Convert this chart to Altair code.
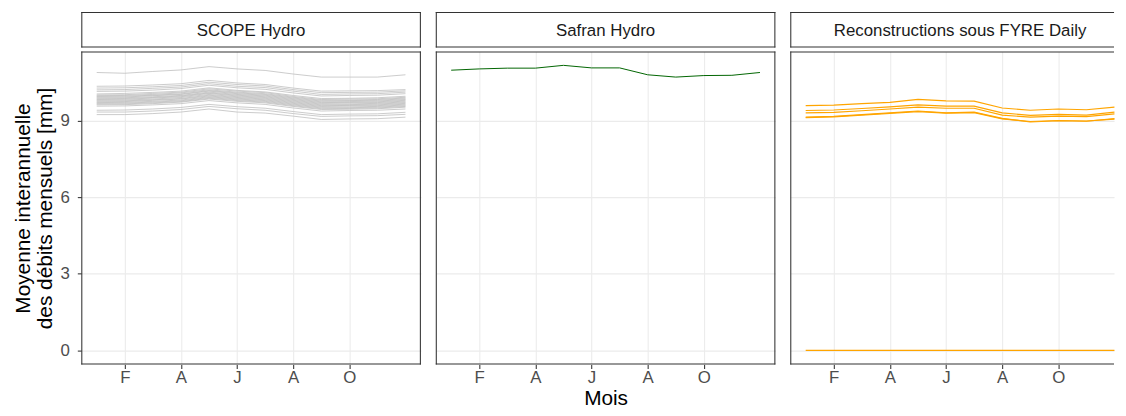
import altair as alt
import pandas as pd

months = list(range(1, 13))
tick_months = [2, 4, 6, 8, 10]
tick_labels = ["F", "A", "J", "A", "O"]
y_ticks = [0, 3, 6, 9]

panel_names = ["SCOPE Hydro", "Safran Hydro", "Reconstructions sous FYRE Daily"]

scope_lines = [
    [10.89, 10.86, 10.93, 10.99, 11.12, 11.03, 10.97, 10.83, 10.71, 10.71, 10.71, 10.80],
    [10.35, 10.36, 10.40, 10.45, 10.58, 10.48, 10.42, 10.28, 10.16, 10.17, 10.18, 10.22],
    [10.28, 10.29, 10.33, 10.38, 10.51, 10.42, 10.36, 10.22, 10.10, 10.11, 10.12, 10.17],
    [10.21, 10.22, 10.27, 10.32, 10.45, 10.35, 10.30, 10.16, 10.03, 10.05, 10.06, 10.12],
    [10.15, 10.16, 10.20, 10.26, 10.39, 10.29, 10.23, 10.09, 9.97, 9.99, 10.00, 10.06],
    [10.05, 10.07, 10.11, 10.16, 10.29, 10.19, 10.13, 9.99, 9.87, 9.88, 9.90, 9.96],
    [10.01, 10.02, 10.07, 10.12, 10.25, 10.16, 10.10, 9.95, 9.83, 9.85, 9.86, 9.92],
    [9.98, 9.99, 10.03, 10.09, 10.21, 10.12, 10.06, 9.92, 9.80, 9.81, 9.83, 9.89],
    [9.95, 9.96, 10.00, 10.05, 10.18, 10.09, 10.03, 9.89, 9.77, 9.79, 9.80, 9.86],
    [9.92, 9.93, 9.98, 10.03, 10.16, 10.06, 10.00, 9.86, 9.74, 9.75, 9.77, 9.83],
    [9.89, 9.90, 9.94, 9.99, 10.12, 10.03, 9.97, 9.83, 9.71, 9.72, 9.74, 9.80],
    [9.86, 9.87, 9.91, 9.97, 10.09, 10.00, 9.94, 9.80, 9.68, 9.70, 9.71, 9.77],
    [9.83, 9.84, 9.89, 9.94, 10.07, 9.97, 9.91, 9.77, 9.65, 9.66, 9.68, 9.74],
    [9.80, 9.81, 9.85, 9.91, 10.03, 9.94, 9.88, 9.74, 9.62, 9.63, 9.65, 9.71],
    [9.77, 9.78, 9.82, 9.87, 10.00, 9.91, 9.85, 9.71, 9.59, 9.60, 9.62, 9.68],
    [9.74, 9.75, 9.80, 9.85, 9.97, 9.88, 9.82, 9.68, 9.56, 9.58, 9.59, 9.65],
    [9.71, 9.72, 9.76, 9.81, 9.94, 9.85, 9.79, 9.65, 9.53, 9.54, 9.56, 9.62],
    [9.68, 9.69, 9.73, 9.78, 9.91, 9.82, 9.76, 9.62, 9.50, 9.51, 9.53, 9.59],
    [9.65, 9.66, 9.70, 9.75, 9.88, 9.79, 9.73, 9.59, 9.47, 9.48, 9.50, 9.56],
    [9.62, 9.63, 9.67, 9.73, 9.85, 9.76, 9.70, 9.56, 9.44, 9.45, 9.47, 9.53],
    [9.57, 9.58, 9.62, 9.67, 9.79, 9.70, 9.64, 9.50, 9.38, 9.40, 9.41, 9.46],
    [9.41, 9.42, 9.46, 9.52, 9.64, 9.55, 9.49, 9.36, 9.24, 9.26, 9.27, 9.33],
    [9.34, 9.34, 9.38, 9.44, 9.56, 9.47, 9.41, 9.28, 9.17, 9.19, 9.20, 9.25],
    [9.24, 9.24, 9.28, 9.34, 9.46, 9.34, 9.30, 9.18, 9.05, 9.07, 9.08, 9.14],
]

safran_line = [10.98, 11.03, 11.06, 11.06, 11.17, 11.07, 11.07, 10.80, 10.71, 10.77, 10.78, 10.89]

fyre_lines = [
    [9.59, 9.61, 9.67, 9.72, 9.84, 9.78, 9.77, 9.50, 9.41, 9.46, 9.43, 9.53],
    [9.40, 9.42, 9.48, 9.54, 9.62, 9.57, 9.57, 9.31, 9.21, 9.25, 9.22, 9.34],
    [9.31, 9.33, 9.39, 9.46, 9.53, 9.49, 9.49, 9.22, 9.14, 9.18, 9.16, 9.27],
    [9.14, 9.17, 9.24, 9.31, 9.38, 9.31, 9.34, 9.09, 8.95, 9.00, 8.98, 9.08],
    [9.12, 9.15, 9.22, 9.29, 9.36, 9.30, 9.32, 9.07, 8.97, 9.01, 8.99, 9.06],
    [0.0, 0.0, 0.0, 0.0, 0.0, 0.0, 0.0, 0.0, 0.0, 0.0, 0.0, 0.0],
]


def to_long(lines):
    rows = []
    for i, vals in enumerate(lines):
        for m, v in zip(months, vals):
            rows.append({"serie": f"s{i}", "mois": m, "valeur": v})
    return pd.DataFrame(rows)


FONT = "Liberation Sans"
BORDER = "#333333"
BW = 1.07
W, H, SH = 343, 316, 36
W3 = 327                      # last panel is cut by the picture's right edge
PX_PER_MONTH = W / 12.1
X_DOMAIN = [0.45, 12.55]
X_DOMAIN3 = [0.45, 0.45 + W3 / PX_PER_MONTH]
Y_DOMAIN = [-0.55, 11.71]
Y_TITLE = ["Moyenne interannuelle", "des débits mensuels [mm]"]

label_expr = " : ".join(
    [f"datum.value == {m} ? '{t}'" for m, t in zip(tick_months, tick_labels)]
) + " : ''"


def borders(width, height, right=True):
    d = pd.DataFrame({"k": [0]})
    base = alt.Chart(d).mark_rule(color=BORDER, strokeWidth=BW)
    h = BW / 2
    out = [
        base.encode(x=alt.value(h), y=alt.value(0), y2=alt.value(height)),
        base.encode(x=alt.value(0), x2=alt.value(width), y=alt.value(h)),
        base.encode(x=alt.value(0), x2=alt.value(width), y=alt.value(height - h)),
    ]
    if right:
        out.append(base.encode(x=alt.value(width - h), y=alt.value(0), y2=alt.value(height)))
    return out


def panel(df, color, width_line, first, xtitle, width, xdomain, right=True):
    if first:
        yaxis = alt.Axis(
            values=y_ticks,
            titleFontSize=21,
            titleFont=FONT,
            titleFontWeight="normal",
            titleColor="black",
            titleLineHeight=22,
            titlePadding=5,
            labelFontSize=17,
            labelColor="#4D4D4D",
            labelFont=FONT,
            labelPadding=8,
            tickSize=4,
            tickColor=BORDER,
            tickWidth=BW,
            domain=False,
            gridColor="#EBEBEB",
            gridWidth=BW,
        )
    else:
        yaxis = alt.Axis(
            values=y_ticks,
            labels=False,
            ticks=False,
            domain=False,
            gridColor="#EBEBEB",
            gridWidth=BW,
        )
    xaxis_kwargs = dict(
        values=tick_months,
        labelExpr=label_expr,
        labelFontSize=17,
        labelColor="#4D4D4D",
        labelFont=FONT,
        labelPadding=1,
        tickSize=4,
        tickColor=BORDER,
        tickWidth=BW,
        domain=False,
        gridColor="#EBEBEB",
        gridWidth=BW,
    )
    if xtitle:
        xaxis = alt.Axis(
            titleFontSize=21,
            titleFont=FONT,
            titleFontWeight="normal",
            titleColor="black",
            titlePadding=2,
            **xaxis_kwargs,
        )
    else:
        xaxis = alt.Axis(**xaxis_kwargs)
    lines = (
        alt.Chart(df)
        .mark_line(color=color, strokeWidth=width_line)
        .encode(
            x=alt.X("mois:Q", scale=alt.Scale(domain=xdomain, nice=False, zero=False),
                    axis=xaxis, title="Mois" if xtitle else None),
            y=alt.Y("valeur:Q", scale=alt.Scale(domain=Y_DOMAIN, nice=False, zero=False),
                    axis=yaxis, title=Y_TITLE if first else None),
            detail="serie:N",
        )
    )
    return alt.layer(lines, *borders(width, H, right)).properties(width=width, height=H)


def strip(name, width, center, right=True):
    text = (
        alt.Chart(pd.DataFrame({"lab": [name]}))
        .mark_text(font=FONT, fontSize=17, color="#1A1A1A")
        .encode(text="lab:N", x=alt.value(center), y=alt.value(SH / 2 + 1))
    )
    return alt.layer(text, *borders(width, SH, right)).properties(width=width, height=SH)


p1 = alt.vconcat(
    strip(panel_names[0], W, W / 2),
    panel(to_long(scope_lines), "#BEBEBE", 0.8, True, False, W, X_DOMAIN),
    spacing=0,
)
p2 = alt.vconcat(
    strip(panel_names[1], W, W / 2),
    panel(to_long([safran_line]), "#006400", 1.0, False, True, W, X_DOMAIN),
    spacing=0,
)
p3 = alt.vconcat(
    strip(panel_names[2], W3, W / 2, right=False),
    panel(to_long(fyre_lines), "#FFA500", 1.2, False, False, W3, X_DOMAIN3, right=False),
    spacing=0,
)

chart = (
    alt.hconcat(p1, p2, p3, spacing=11)
    .properties(padding={"left": 4, "top": 0, "right": 0, "bottom": 0}, background="white")
    .configure_view(stroke="transparent", fill="white")
    .configure_axis(grid=True)
)

chart.save("out.html", embed_options={"renderer": "svg", "actions": False})
